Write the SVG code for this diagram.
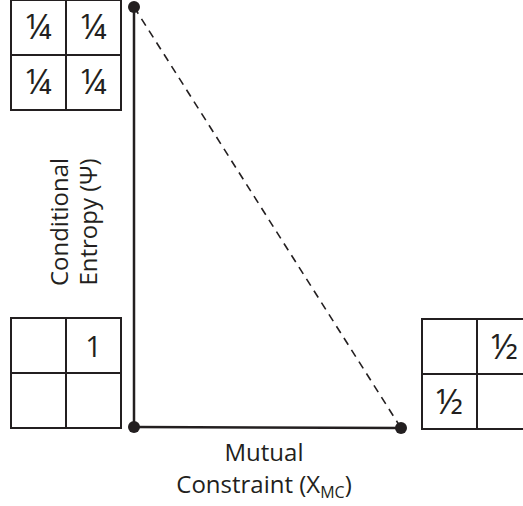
<svg xmlns="http://www.w3.org/2000/svg" width="523" height="506" viewBox="0 0 523 506">
<style>
.grid{fill:#fff;stroke:#231f20;stroke-width:2}
.t{font-family:"Open Sans","Liberation Sans",sans-serif;fill:#231f20;text-anchor:middle}
.f{font-size:35px}
.one{font-size:29px}
.lab{font-size:24px}
.ax{stroke:#231f20;stroke-width:2.5;fill:none}
</style>
<g id="connectors">
<line class="ax" x1="134" y1="7" x2="134" y2="427"/>
<line class="ax" x1="134" y1="427" x2="401" y2="428"/>
<line x1="134" y1="7" x2="401" y2="428" stroke="#231f20" stroke-width="1.6" stroke-dasharray="8,6"/>
</g>
<g id="grid-top">
<rect class="grid" x="11" y="0" width="110" height="110"/>
<line class="grid" x1="66" y1="0" x2="66" y2="110"/>
<line class="grid" x1="11" y1="55" x2="121" y2="55"/>
<text class="t f" x="38.5" y="39">¼</text>
<text class="t f" x="93.5" y="39">¼</text>
<text class="t f" x="38.5" y="94">¼</text>
<text class="t f" x="93.5" y="94">¼</text>
</g>
<g id="grid-left">
<rect class="grid" x="11" y="318" width="110" height="110"/>
<line class="grid" x1="66" y1="318" x2="66" y2="428"/>
<line class="grid" x1="11" y1="373" x2="121" y2="373"/>
<text class="t one" x="93.5" y="357">1</text>
</g>
<g id="grid-right">
<rect class="grid" x="422" y="319" width="110" height="110"/>
<line class="grid" x1="477" y1="319" x2="477" y2="429"/>
<line class="grid" x1="422" y1="374" x2="532" y2="374"/>
<text class="t f" x="504.5" y="359">½</text>
<text class="t f" x="449.5" y="414">½</text>
</g>
<g id="node-top"><circle cx="134" cy="7" r="6" fill="#231f20"/></g>
<g id="node-origin"><circle cx="134" cy="427" r="6" fill="#231f20"/></g>
<g id="node-right"><circle cx="401" cy="428" r="6" fill="#231f20"/></g>
<g id="label-y">
<text class="t lab" transform="translate(68,222) rotate(-90)">Conditional</text>
<text class="t lab" transform="translate(97,222) rotate(-90)">Entropy (Ψ)</text>
</g>
<g id="label-x">
<text class="t lab" x="264" y="461">Mutual</text>
<text class="t lab" x="264" y="493">Constraint (X<tspan font-size="16" dy="5">MC</tspan><tspan dy="-5">)</tspan></text>
</g>
</svg>
